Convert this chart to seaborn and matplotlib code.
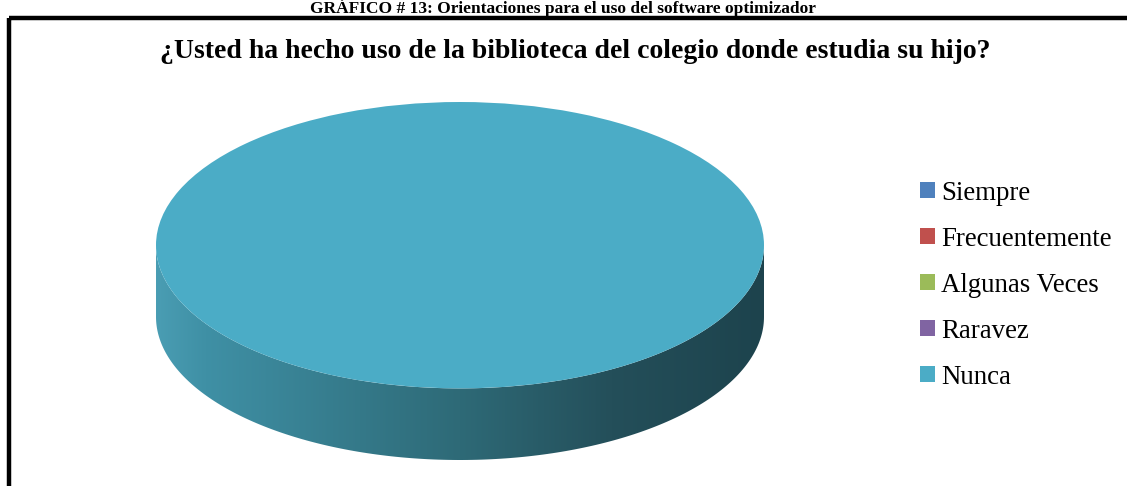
import numpy as np
import matplotlib
matplotlib.use("Agg")
import matplotlib.pyplot as plt
import seaborn as sns
from matplotlib.patches import Rectangle, PathPatch
from matplotlib.path import Path
from matplotlib.colors import LinearSegmentedColormap

# data
labels = ["Siempre", "Frecuentemente", "Algunas Veces", "Raravez", "Nunca"]
values = [0, 0, 0, 0, 100]
colors = ["#4F81BD", "#C0504D", "#9BBB59", "#8064A2", "#4BACC6"]
title = "¿Usted ha hecho uso de la biblioteca del colegio donde estudia su hijo?"
caption = "GRÁFICO # 13: Orientaciones para el uso del software optimizador"

sns.set_style("white")
plt.rcParams["font.family"] = ["Liberation Serif", "DejaVu Serif"]
plt.rcParams["text.color"] = "black"

W, H = 1127, 486
fig = plt.figure(figsize=(W / 100, H / 100), dpi=100)

# background axes in pixel coords for frame and texts
bg = fig.add_axes([0, 0, 1, 1])
bg.set_xlim(0, W); bg.set_ylim(H, 0); bg.axis("off")
bg.add_patch(Rectangle((9, 18), 1200, 600, fill=False, edgecolor="black", lw=3.2))
bg.text(563, 13, caption, ha="center", va="baseline", fontsize=12.5, fontweight="bold")
bg.text(575, 52, title, ha="center", va="center", fontsize=20, fontweight="bold")

# 3D-looking pie: top face from ax.pie, side as gradient band
depth = 0.5
ax = fig.add_axes([156 / W, (H - 460) / H, 608 / W, 358 / H])
wedges, _ = ax.pie(values, colors=sns.color_palette(colors), startangle=90,
                   counterclock=False, wedgeprops=dict(linewidth=0), radius=1)
for w in wedges:
    w.set_zorder(3)
ax.set_aspect("auto")
ax.axis("off")

t = np.linspace(np.pi, 2 * np.pi, 200)
top = np.column_stack([np.cos(t), np.sin(t)])
bot = np.column_stack([np.cos(t[::-1]), np.sin(t[::-1]) - depth])
verts = np.vstack([top, bot, top[:1]])
side = PathPatch(Path(verts, closed=True), facecolor="none", edgecolor="none")
ax.add_patch(side)
cmap = LinearSegmentedColormap.from_list("side", [
    (0.0, "#4a9db3"), (0.08, "#3f90a5"), (0.5, "#2e6a77"),
    (0.75, "#244f5a"), (1.0, "#1d434d")])
grad = np.linspace(0, 1, 256)[None, :]
im = ax.imshow(grad, cmap=cmap, extent=[-1, 1, -1 - depth, 0], aspect="auto",
               zorder=2, interpolation="bilinear")
im.set_clip_path(side)
ax.set_xlim(-1, 1)
ax.set_ylim(-1 - depth, 1)

fig.legend(wedges, labels, loc="upper left", bbox_to_anchor=(909 / W, 1 - 170 / H),
           frameon=False, fontsize=19.4, handlelength=0.55, handleheight=0.55,
           handletextpad=0.25, labelspacing=0.78, borderaxespad=0)

fig.savefig("out.png", dpi=100)
